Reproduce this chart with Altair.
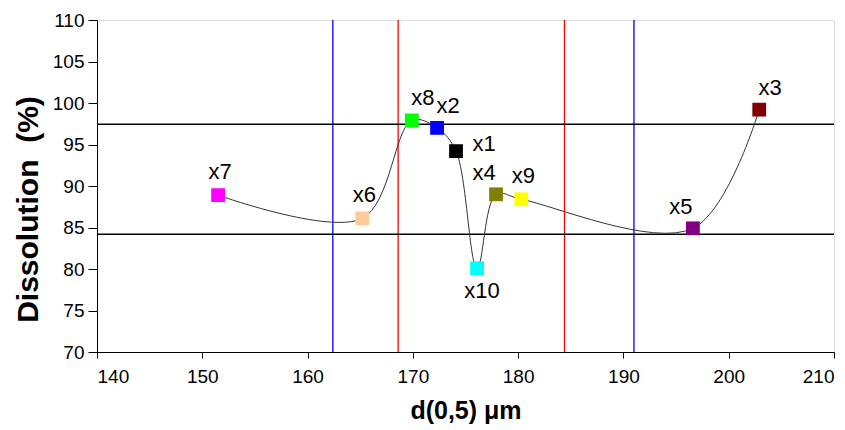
import altair as alt
import pandas as pd

# Data
names = ["x7", "x6", "x8", "x2", "x1", "x10", "x4", "x9", "x5", "x3"]
d50 = [151.5, 165.2, 169.9, 172.3, 174.1, 176.1, 177.9, 180.3, 196.6, 202.9]
dissolution = [88.9, 86.1, 97.9, 97.0, 94.2, 80.1, 89.0, 88.4, 84.9, 99.2]
colors = ["#FF00FF", "#FFCC99", "#00FF00", "#0000FF", "#000000",
          "#00FFFF", "#808000", "#FFFF00", "#800080", "#800000"]
label_pos = ["top", "top", "topright", "topright", "right",
             "below", "topleft", "top", "topleft", "topright"]

hlines = [97.45, 84.2]
vlines_blue = [162.4, 191.0]
vlines_red = [168.6, 184.4]

df = pd.DataFrame({"name": names, "d50": d50, "diss": dissolution,
                   "color": colors, "pos": label_pos})

FONT = "Liberation Sans"

xs = alt.Scale(domain=[140, 210], nice=False, zero=False)
ys = alt.Scale(domain=[70, 110], nice=False, zero=False)

xax = alt.Axis(values=list(range(140, 211, 10)), title="d(0,5) μm", grid=False,
               labelFont=FONT, labelFontSize=19, labelColor="#000",
               titleFont=FONT, titleFontSize=25, titleFontWeight="bold",
               titleColor="#000", titlePadding=12, labelPadding=9,
               domainColor="#000", tickColor="#000", tickSize=6)
yax = alt.Axis(values=list(range(70, 111, 5)), title="Dissolution\u00a0\u00a0(%)", grid=False,
               labelFont=FONT, labelFontSize=19, labelColor="#000",
               titleFont=FONT, titleFontSize=30, titleFontWeight="bold",
               titleColor="#000", titleX=-69, titleY=189, titleBaseline="middle",
               titleAlign="center", titleAngle=270, labelPadding=4,
               domainColor="#000", tickColor="#000", tickSize=9)

base = alt.Chart(df)

curve = base.mark_line(interpolate="catmull-rom", color="#333333", strokeWidth=1).encode(
    x=alt.X("d50:Q", scale=xs, axis=xax),
    y=alt.Y("diss:Q", scale=ys, axis=yax),
    order="d50:Q",
)

hdf = pd.DataFrame({"y": hlines})
hrule = alt.Chart(hdf).mark_rule(color="#000000", strokeWidth=1.5).encode(
    y=alt.Y("y:Q", scale=ys))

vb = alt.Chart(pd.DataFrame({"x": vlines_blue})).mark_rule(color="#0000FF", strokeWidth=1.3).encode(
    x=alt.X("x:Q", scale=xs))
vr = alt.Chart(pd.DataFrame({"x": vlines_red})).mark_rule(color="#FF0000", strokeWidth=1.3).encode(
    x=alt.X("x:Q", scale=xs))

pts = base.mark_point(shape="square", filled=True, size=190, opacity=1).encode(
    x=alt.X("d50:Q", scale=xs),
    y=alt.Y("diss:Q", scale=ys),
    color=alt.Color("color:N", scale=None),
)

offsets = {"top": (2, -23), "topright": (11, -22), "right": (28, -7),
           "topleft": (-12, -21), "below": (5, 23)}
labels = []
for p, (dx, dy) in offsets.items():
    labels.append(
        base.transform_filter(alt.datum.pos == p).mark_text(
            font=FONT, fontSize=22, color="#000", dx=dx, dy=dy, align="center", baseline="middle"
        ).encode(x=alt.X("d50:Q", scale=xs), y=alt.Y("diss:Q", scale=ys), text="name:N")
    )

chart = alt.layer(vb, vr, hrule, curve, pts, *labels).properties(
    width=737, height=332,
    autosize=alt.AutoSizeParams(type="none"),
    padding={"left": 89, "top": 12, "right": 3, "bottom": 78},
).configure_view(stroke="#999999", strokeWidth=1).configure(background="white")

chart.save("out.html", embed_options={"renderer": "svg", "actions": False})
